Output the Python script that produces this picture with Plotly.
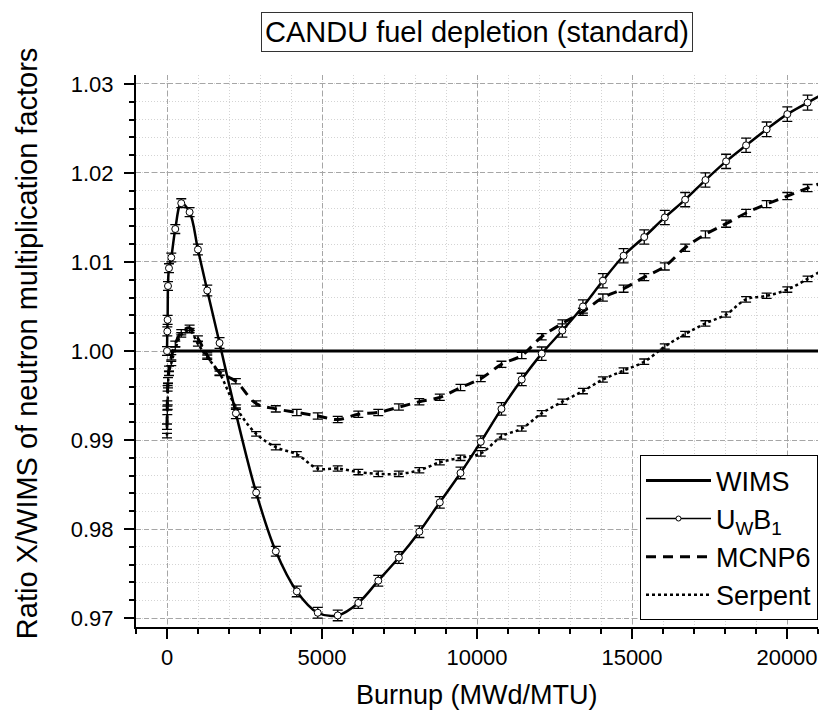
import plotly.graph_objects as go

# ---------------- data ----------------
burnup = [0, 10, 20, 32, 64, 138, 267, 460, 729, 998, 1298, 1695, 2222, 2876, 3510,
          4187, 4863, 5507, 6171, 6815, 7480, 8140, 8800, 9468, 10122, 10789, 11443,
          12087, 12754, 13417, 14061, 14728, 15395, 16058, 16715, 17369, 18035, 18680,
          19343, 20010, 20664, 21330]

wims_x = [0, 21330]
wims_y = [1.0, 1.0]

uwb1_y = [1.0000, 1.0022, 1.0035, 1.0073, 1.0093, 1.0105, 1.0137, 1.0166, 1.0156, 1.0114,
          1.0068, 1.0009, 0.9930, 0.9841, 0.9775, 0.9730, 0.9706, 0.9703, 0.9717, 0.9742,
          0.9768, 0.9797, 0.9830, 0.9863, 0.9898, 0.9935, 0.9968, 0.9997, 1.0023, 1.0050,
          1.0079, 1.0107, 1.0128, 1.0150, 1.0170, 1.0192, 1.0213, 1.0231, 1.0249, 1.0266,
          1.0279, 1.0292]
uwb1_err = [0.0005, 0.0005, 0.0005, 0.0005, 0.0005, 0.0005, 0.0005, 0.0005, 0.0005, 0.0006,
            0.0006, 0.0006, 0.0006, 0.0006, 0.00055, 0.0006, 0.0006, 0.0006, 0.0006, 0.0006,
            0.00065, 0.00065, 0.00065, 0.00065, 0.00066, 0.0007, 0.0007, 0.00075, 0.00075, 0.00075,
            0.0008, 0.0008, 0.0008, 0.0008, 0.0008, 0.0008, 0.0008, 0.0008, 0.00082, 0.00082,
            0.00084, 0.00084]

mcnp_y = [0.9915, 0.9941, 0.9958, 0.9967, 0.9980, 0.9993, 1.0008, 1.0021, 1.0026, 1.0014,
          0.9995, 0.9976, 0.9966, 0.9941, 0.9935, 0.9931, 0.9927, 0.9923, 0.9929, 0.9931,
          0.9937, 0.9943, 0.9948, 0.9959, 0.9969, 0.9985, 0.9995, 1.0016, 1.0031, 1.0044,
          1.0060, 1.0070, 1.0083, 1.0095, 1.0116, 1.0131, 1.0143, 1.0155, 1.0165, 1.0174,
          1.0183, 1.0191]
mcnp_err = [0.0003] * 14 + [0.00035] * 14 + [0.0004] * 14

serpent_y = [0.9905, 0.9931, 0.9937, 0.9961, 0.9975, 0.9986, 1.0002, 1.0018, 1.0023, 1.0008,
             0.9993, 0.9975, 0.9937, 0.9907, 0.9892, 0.9884, 0.9868, 0.9868, 0.9864, 0.9862,
             0.9862, 0.9866, 0.9875, 0.9880, 0.9885, 0.9904, 0.9913, 0.9930, 0.9943, 0.9955,
             0.9968, 0.9978, 0.9988, 1.0005, 1.0019, 1.0031, 1.0041, 1.0058, 1.0062, 1.0069,
             1.0081, 1.0095]
serpent_err = [0.00025] * 14 + [0.0003] * 28

x_ticks = [0, 5000, 10000, 15000, 20000]
y_ticks = [0.97, 0.98, 0.99, 1.00, 1.01, 1.02, 1.03]

FONT = "Liberation Sans, Arial, sans-serif"

fig = go.Figure()

err_style = dict(type="data", thickness=1.3, width=5, color="black")

# WIMS reference line
fig.add_trace(go.Scatter(x=wims_x, y=wims_y, mode="lines", name="WIMS",
                         line=dict(color="black", width=3)))
# legend proxy for UWB1 (thin line with small marker, as in the reference legend)
fig.add_trace(go.Scatter(x=[None], y=[None], mode="lines+markers",
                         name="U<sub>W</sub>B<sub>1</sub>",
                         line=dict(color="black", width=1.5),
                         marker=dict(symbol="circle", size=5, color="white",
                                     line=dict(color="black", width=1))))
# MCNP6
fig.add_trace(go.Scatter(x=burnup, y=mcnp_y, mode="lines", name="MCNP6",
                         line=dict(color="black", width=3, dash="10px,7px", shape="spline"),
                         error_y=dict(array=mcnp_err, **err_style)))
# Serpent
fig.add_trace(go.Scatter(x=burnup, y=serpent_y, mode="lines", name="Serpent",
                         line=dict(color="black", width=2.5, dash="dot", shape="spline"),
                         error_y=dict(array=serpent_err, **err_style)))
# UWB1 curve
fig.add_trace(go.Scatter(x=burnup, y=uwb1_y, mode="lines+markers", showlegend=False,
                         name="UWB1",
                         line=dict(color="black", width=2.5, shape="spline"),
                         marker=dict(symbol="circle", size=7, color="white",
                                     line=dict(color="black", width=1)),
                         error_y=dict(array=uwb1_err, **err_style)))

axis_common = dict(
    showline=True, linecolor="black", linewidth=2, mirror=False,
    ticks="outside", tickcolor="black", tickwidth=2, ticklen=10,
    showgrid=True, gridcolor="#a6a6a6", gridwidth=1, griddash="5px,3px",
    zeroline=False,
    tickfont=dict(family=FONT, size=22, color="black"),
)

fig.update_xaxes(
    range=[-1000, 21000], tickmode="array", tickvals=x_ticks,
    ticktext=[str(v) for v in x_ticks],
    minor=dict(dtick=1000, tick0=0, ticks="outside", ticklen=5, tickwidth=2,
               tickcolor="black", showgrid=True, gridcolor="#d4d4d4",
               griddash="1px,2px", gridwidth=1),
    **axis_common,
)
fig.update_yaxes(
    range=[0.969, 1.031], tickmode="array", tickvals=y_ticks,
    ticktext=[f"{v:.2f}" for v in y_ticks],
    ticklabelstandoff=6,
    minor=dict(dtick=0.002, tick0=0.97, ticks="outside", ticklen=5, tickwidth=2,
               tickcolor="black", showgrid=True, gridcolor="#d4d4d4",
               griddash="1px,2px", gridwidth=1),
    **axis_common,
)

fig.update_layout(
    width=824, height=713,
    margin=dict(l=136, r=6, t=75, b=86),
    paper_bgcolor="white", plot_bgcolor="white",
    font=dict(family=FONT, color="black"),
    showlegend=True,
    legend=dict(
        x=1.0, y=0.012, xanchor="right", yanchor="bottom",
        bgcolor="white", bordercolor="black", borderwidth=1,
        font=dict(family=FONT, size=27, color="black"),
        itemwidth=65, tracegroupgap=0,
    ),
    annotations=[
        dict(text="CANDU fuel depletion (standard)", xref="paper", yref="paper",
             x=0.5, y=1.078, xanchor="center", yanchor="middle", showarrow=False,
             font=dict(family=FONT, size=29, color="black"),
             bordercolor="#333333", borderwidth=1, borderpad=3, bgcolor="white"),
        dict(text="Burnup (MWd/MTU)", xref="paper", yref="paper",
             x=0.5, y=-0.123, xanchor="center", yanchor="middle", showarrow=False,
             font=dict(family=FONT, size=27, color="black")),
        dict(text="Ratio X/WIMS of neutron multiplication factors", xref="paper",
             yref="paper", x=-0.16, y=0.514, xanchor="center", yanchor="middle",
             textangle=-90, showarrow=False,
             font=dict(family=FONT, size=29, color="black")),
    ],
)

fig.write_html("out.html",
               config={"displayModeBar": False},
               post_script="document.body.style.margin='0px';"
                           "document.body.style.overflow='hidden';")
